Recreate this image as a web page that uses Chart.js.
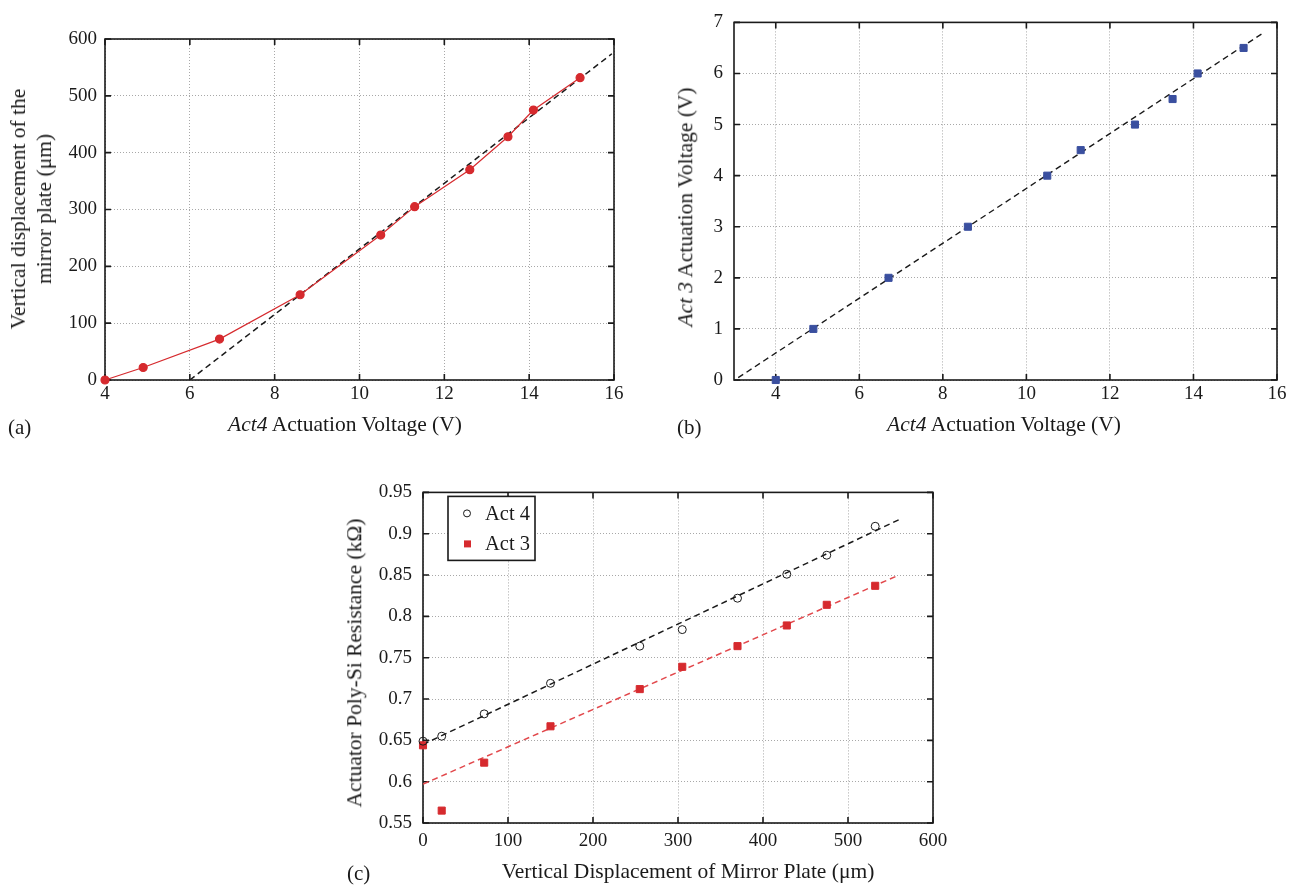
<!DOCTYPE html>
<html>
<head>
<meta charset="utf-8">
<script src="https://cdn.jsdelivr.net/npm/chart.js@4.4.0/dist/chart.umd.min.js"></script>
<style>
  html, body { margin: 0; padding: 0; background: #fff; }
  #page { position: relative; width: 1298px; height: 886px; background: #fff;
          font-family: "Liberation Serif", "Times New Roman", serif; color: #1a1a1a; }
  .box { position: absolute; }
  .lbl { position: absolute; font-size: 21.5px; line-height: 1; white-space: nowrap;
         transform: translate(-50%, -50%); }
  .rot { transform: translate(-50%, -50%) rotate(-90deg); text-align: center; }
  .tag { position: absolute; font-size: 21px; line-height: 1; transform: translateY(-50%); }
</style>
</head>
<body>
<div id="page">
  <div class="box" style="left:0;top:0;width:640px;height:440px"><canvas id="chartA"></canvas></div>
  <div class="box" style="left:640px;top:0;width:658px;height:440px"><canvas id="chartB"></canvas></div>
  <div class="box" style="left:330px;top:470px;width:640px;height:416px"><canvas id="chartC"></canvas></div>

  <div class="lbl rot" style="left:31px;top:209px;line-height:26px">Vertical displacement of the<br>mirror plate (μm)</div>
  <div class="lbl" style="left:345px;top:425px"><i>Act4</i> Actuation Voltage (V)</div>
  <div class="tag" style="left:8px;top:427px">(a)</div>

  <div class="lbl rot" style="left:686px;top:207px"><i>Act 3</i> Actuation Voltage (V)</div>
  <div class="lbl" style="left:1004px;top:425px"><i>Act4</i> Actuation Voltage (V)</div>
  <div class="tag" style="left:677px;top:427px">(b)</div>

  <div class="lbl rot" style="left:355px;top:663px">Actuator Poly-Si Resistance (kΩ)</div>
  <div class="lbl" style="left:688px;top:872px">Vertical Displacement of Mirror Plate (μm)</div>
  <div class="tag" style="left:347px;top:873px">(c)</div>
</div>

<script>
// Act4 voltage steps, shared by (a) and (b)
const act4Volt = [4, 4.9, 6.7, 8.6, 10.5, 11.3, 12.6, 13.5, 14.1, 15.2];
const mirrorDisp = [0, 22, 72, 150, 255, 305, 370, 428, 475, 532];
const act3Volt = [0, 1, 2, 3, 4, 4.5, 5, 5.5, 6, 6.5];

// (c) resistance vs displacement
const resAct4 = [0.649, 0.655, 0.682, 0.719, 0.764, 0.784, 0.822, 0.851, 0.874, 0.909];
const resAct3 = [0.644, 0.565, 0.623, 0.667, 0.712, 0.739, 0.764, 0.789, 0.814, 0.837];

// dashed linear fits (end points)
const fitAX = [6, 15.95];
const fitAY = [0, 574];
const fitBX = [3.1, 15.68];
const fitBY = [0.045, 6.8];
const fitCX = [0, 560];
const fitC4Y = [0.645, 0.917];
const fitC3Y = [0.597, 0.85];

// tick labels
const voltTicks = [4, 6, 8, 10, 12, 14, 16];
const dispTicksA = [0, 100, 200, 300, 400, 500, 600];
const act3Ticks = [0, 1, 2, 3, 4, 5, 6, 7];
const dispTicksC = [0, 100, 200, 300, 400, 500, 600];
const resTicks = [0.55, 0.6, 0.65, 0.7, 0.75, 0.8, 0.85, 0.9, 0.95];

const RED = '#d62a2e';
const RED_FIT = '#e2484c';
const BLUE = '#3a4f9f';
const INK = '#1a1a1a';
const FONT = { family: '"Liberation Serif", "Times New Roman", serif', size: 19 };

function pts(xs, ys) {
  return xs.map((x, i) => ({ x: x, y: ys[i] }));
}

function axis(pos, min, max, ticks, pad, size) {
  return {
    type: 'linear', position: pos, min: min, max: max,
    afterBuildTicks: s => { s.ticks = ticks.map(v => ({ value: v })); },
    afterFit: s => { if (pos === 'left') s.width = size; else s.height = size; },
    ticks: { font: FONT, color: INK, padding: pad, maxRotation: 0, autoSkip: false,
             callback: v => String(+v.toFixed(2)) },
    grid: { color: '#a8a8a8', lineWidth: 1, drawTicks: false },
    border: { display: false, dash: [1, 2] }
  };
}

// box frame with inward tick marks on all four sides
const framePlugin = {
  id: 'frame',
  beforeDatasetsDraw(chart) {
    const ctx = chart.ctx, a = chart.chartArea;
    const x = chart.scales.x, y = chart.scales.y;
    ctx.save();
    ctx.strokeStyle = INK;
    ctx.lineWidth = 1.6;
    ctx.strokeRect(a.left, a.top, a.right - a.left, a.bottom - a.top);
    ctx.beginPath();
    x.ticks.forEach(t => {
      const px = x.getPixelForValue(t.value);
      ctx.moveTo(px, a.bottom); ctx.lineTo(px, a.bottom - 6);
      ctx.moveTo(px, a.top); ctx.lineTo(px, a.top + 6);
    });
    y.ticks.forEach(t => {
      const py = y.getPixelForValue(t.value);
      ctx.moveTo(a.left, py); ctx.lineTo(a.left + 6, py);
      ctx.moveTo(a.right, py); ctx.lineTo(a.right - 6, py);
    });
    ctx.stroke();
    ctx.restore();
  }
};

// boxed legend in the upper left of panel (c)
const boxLegend = {
  id: 'boxLegend',
  afterDatasetsDraw(chart) {
    const ctx = chart.ctx, a = chart.chartArea;
    const bx = a.left + 25, by = a.top + 4, bw = 87, bh = 64;
    ctx.save();
    ctx.fillStyle = '#fff';
    ctx.fillRect(bx, by, bw, bh);
    ctx.strokeStyle = INK;
    ctx.lineWidth = 1.6;
    ctx.strokeRect(bx, by, bw, bh);
    ctx.font = '20.5px "Liberation Serif", serif';
    ctx.fillStyle = INK;
    ctx.textBaseline = 'middle';
    ctx.fillText('Act 4', bx + 37, by + 18);
    ctx.fillText('Act 3', bx + 37, by + 48);
    ctx.lineWidth = 1;
    ctx.beginPath();
    ctx.arc(bx + 19, by + 17, 3.5, 0, Math.PI * 2);
    ctx.stroke();
    ctx.fillStyle = RED;
    ctx.fillRect(bx + 16, by + 44, 7, 7);
    ctx.restore();
  }
};

function baseOptions(padding, xs, ys) {
  return {
    responsive: true, maintainAspectRatio: false, animation: false,
    layout: { padding: padding },
    plugins: { legend: { display: false }, tooltip: { enabled: false } },
    scales: { x: xs, y: ys }
  };
}

new Chart(document.getElementById('chartA'), {
  type: 'scatter',
  data: {
    datasets: [
      { data: pts(act4Volt, mirrorDisp), showLine: true, borderColor: RED, borderWidth: 1.2,
        pointRadius: 4, pointBackgroundColor: RED, pointBorderColor: RED, clip: false },
      { data: pts(fitAX, fitAY), showLine: true, borderColor: INK, borderWidth: 1.5,
        borderDash: [6, 4], pointRadius: 0 }
    ]
  },
  options: baseOptions({ left: 0, top: 39, right: 26, bottom: 20 },
    axis('bottom', 4, 16, voltTicks, 3, 40),
    axis('left', 0, 600, dispTicksA, 8, 105)),
  plugins: [framePlugin]
});

new Chart(document.getElementById('chartB'), {
  type: 'scatter',
  data: {
    datasets: [
      { data: pts(act4Volt, act3Volt), pointStyle: 'rect', pointRadius: 5,
        pointBackgroundColor: BLUE, pointBorderColor: BLUE, clip: false },
      { data: pts(fitBX, fitBY), showLine: true, borderColor: INK, borderWidth: 1.4,
        borderDash: [6, 4], pointRadius: 0 }
    ]
  },
  options: baseOptions({ left: 0, top: 13, right: 21, bottom: 20 },
    axis('bottom', 3, 16, voltTicks, 3, 40),
    axis('left', 0, 7, act3Ticks, 11, 94)),
  plugins: [framePlugin]
});

new Chart(document.getElementById('chartC'), {
  type: 'scatter',
  data: {
    datasets: [
      { data: pts(mirrorDisp, resAct4), pointStyle: 'circle', pointRadius: 4,
        pointBackgroundColor: 'rgba(0,0,0,0)', pointBorderColor: INK, pointBorderWidth: 1, clip: false },
      { data: pts(mirrorDisp, resAct3), pointStyle: 'rect', pointRadius: 5,
        pointBackgroundColor: RED, pointBorderColor: RED, clip: false },
      { data: pts(fitCX, fitC4Y), showLine: true, borderColor: INK, borderWidth: 1.5,
        borderDash: [6, 4], pointRadius: 0 },
      { data: pts(fitCX, fitC3Y), showLine: true, borderColor: RED_FIT, borderWidth: 1.5,
        borderDash: [6, 4], pointRadius: 0 }
    ]
  },
  options: baseOptions({ left: 0, top: 19, right: 37, bottom: 23 },
    axis('bottom', 0, 600, dispTicksC, 7, 40),
    axis('left', 0.55, 0.95, resTicks, 11, 93)),
  plugins: [framePlugin, boxLegend]
});
</script>
</body>
</html>
